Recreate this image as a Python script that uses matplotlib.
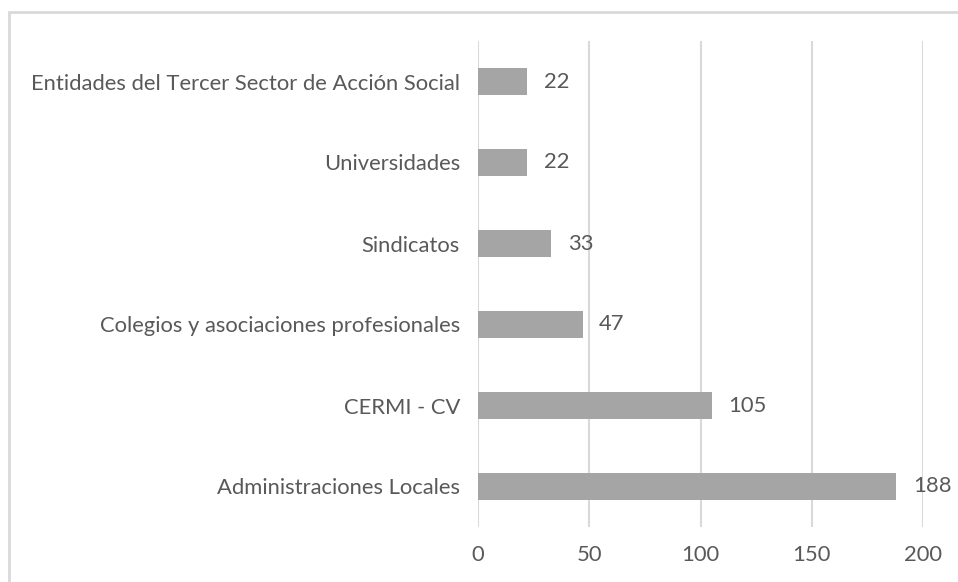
import matplotlib.pyplot as plt
from matplotlib.patches import Rectangle

# data (bottom to top as drawn)
categories = [
    "Administraciones Locales",
    "CERMI - CV",
    "Colegios y asociaciones profesionales",
    "Sindicatos",
    "Universidades",
    "Entidades del Tercer Sector de Acción Social",
]
values = [188, 105, 47, 33, 22, 22]
xticks = [0, 50, 100, 150, 200]

text_col = "#595959"
grid_col = "#D9D9D9"
bar_col = "#A5A5A5"

plt.rcParams["font.family"] = ["Lato", "DejaVu Sans"]
fs = 15.8

fig = plt.figure(figsize=(9.58, 5.82), dpi=100)
ax = fig.add_axes([478 / 958, 1 - 527 / 582, 445 / 958, 486 / 582])

ypos = list(range(len(categories)))
bars = ax.barh(ypos, values, height=0.345, color=bar_col, zorder=3)

ax.set_xlim(0, 200)
ax.set_ylim(-0.5, len(categories) - 0.5)
ax.set_xticks(xticks)
ax.set_xticklabels([str(t) for t in xticks])
ax.set_yticks(ypos)
ax.set_yticklabels(categories)

ax.tick_params(axis="both", length=0, colors=text_col, labelsize=fs)
ax.tick_params(axis="y", pad=13)
ax.tick_params(axis="x", pad=13)

for s in ax.spines.values():
    s.set_visible(False)
ax.grid(axis="x", color=grid_col, linewidth=1.5, zorder=0)
ax.set_axisbelow(True)

# value labels
for y, v in zip(ypos, values):
    ax.annotate(str(v), xy=(v, y), xytext=(12, 0), textcoords="offset points",
                ha="left", va="center", color=text_col, fontsize=fs)

# chart border
fig.patches.append(Rectangle((9 / 958, -0.1), 2.0, 1 - 12 / 582 + 0.1,
                             transform=fig.transFigure, fill=False,
                             edgecolor=grid_col, linewidth=2, clip_on=False))

fig.savefig("out.png", dpi=100)
